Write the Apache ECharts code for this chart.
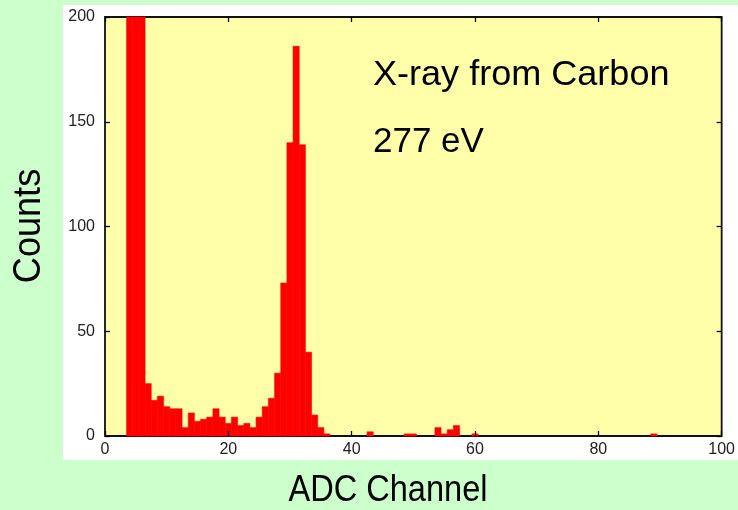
<!DOCTYPE html>
<html>
<head>
<meta charset="utf-8">
<script src="https://cdn.jsdelivr.net/npm/echarts@6/dist/echarts.min.js"></script>
<style>
  html, body { margin: 0; padding: 0; background: #ccffcc; }
  #chart { width: 738px; height: 510px; }
</style>
</head>
<body>
<div id="chart"></div>
<script>
// ADC channel numbers (bin centres) and counts per channel
const channels = [];
for (let c = 0; c < 100; c++) channels.push(c);
const counts = [
  0, 0, 0, 0, 560, 430, 240, 25, 17, 19,
  14, 13, 13, 4, 11, 7, 8, 9, 13, 9,
  6, 9, 5, 6, 4, 9, 14, 18, 30, 73,
  140, 186, 139, 40, 10, 4, 1, 0, 0, 0,
  0, 0, 0, 2, 0, 0, 0, 0, 0, 1,
  1, 0, 0, 0, 4, 1, 3, 5, 0, 0,
  1, 0, 0, 0, 0, 0, 0, 0, 0, 0,
  0, 0, 0, 0, 0, 0, 0, 0, 0, 0,
  0, 0, 0, 0, 0, 0, 0, 0, 0, 1,
  0, 0, 0, 0, 0, 0, 0, 0, 0, 0
];
const xTicks = [0, 20, 40, 60, 80, 100];
const yTicks = [0, 50, 100, 150, 200];
const noteLines = ['X-ray from Carbon', '277 eV'];
const xTitle = 'ADC Channel';
const yTitle = 'Counts';

const FONT = "'Liberation Sans', Arial, sans-serif";
const chart = echarts.init(document.getElementById('chart'));

const binData = channels.map((c, i) => [c, counts[i]]);

// ticks point into the plot area on all four sides
const axisCommon = {
  type: 'value',
  z: 6,
  axisLine: { show: false, onZero: false },
  splitLine: { show: false },
  axisTick: { show: true, inside: true, length: 5, lineStyle: { color: '#000', width: 1.3 } },
  axisLabel: { show: false }
};

chart.setOption({
  backgroundColor: '#ccffcc',
  animation: false,
  graphic: [
    { type: 'rect', z: -10, shape: { x: 63, y: 5, width: 675, height: 455 }, style: { fill: '#ffffff' } },
    { type: 'text', z: 20, x: 373, y: 58, scaleX: 1.03,
      style: { text: noteLines[0], font: '35px ' + FONT, fill: '#000' } },
    { type: 'text', z: 20, x: 373, y: 125,
      style: { text: noteLines[1], font: '35px ' + FONT, fill: '#000' } },
    { type: 'text', z: 20, x: 388, y: 491, scaleX: 0.88,
      style: { text: xTitle, font: '37px ' + FONT, fill: '#000', align: 'center', verticalAlign: 'middle' } },
    { type: 'text', z: 20, x: 30, y: 226, rotation: Math.PI / 2, scaleX: 0.95,
      style: { text: yTitle, font: '38px ' + FONT, fill: '#000', align: 'center', verticalAlign: 'middle' } }
  ],
  grid: {
    left: 105, right: 15, top: 17, bottom: 74, z: 1,
    show: true, backgroundColor: '#ffffaa', borderColor: '#111', borderWidth: 1.8
  },
  xAxis: [
    Object.assign({}, axisCommon, {
      min: xTicks[0], max: xTicks[xTicks.length - 1], interval: 20, position: 'bottom',
      axisLabel: { show: true, margin: 6, fontSize: 16, color: '#222', fontFamily: FONT }
    }),
    Object.assign({}, axisCommon, {
      min: xTicks[0], max: xTicks[xTicks.length - 1], interval: 20, position: 'top'
    })
  ],
  yAxis: [
    Object.assign({}, axisCommon, {
      min: yTicks[0], max: yTicks[yTicks.length - 1], interval: 50, position: 'left',
      axisLabel: { show: true, margin: 10, fontSize: 16, color: '#222', fontFamily: FONT }
    }),
    Object.assign({}, axisCommon, {
      min: yTicks[0], max: yTicks[yTicks.length - 1], interval: 50, position: 'right'
    })
  ],
  series: [{
    type: 'custom',
    xAxisIndex: 0,
    yAxisIndex: 0,
    data: binData,
    z: 4,
    renderItem: function (params, api) {
      const c = api.value(0), v = api.value(1);
      if (!v) return null;
      const top = api.coord([c - 0.5, v]);
      const bot = api.coord([c + 0.5, 0]);
      const rect = { x: top[0], y: top[1], width: bot[0] - top[0], height: bot[1] - top[1] };
      const cs = params.coordSys;
      const shape = echarts.graphic.clipRectByRect(rect, { x: cs.x, y: cs.y, width: cs.width, height: cs.height });
      if (!shape) return null;
      return { type: 'rect', shape: shape, style: { fill: '#ff0000', stroke: '#ff0000', lineWidth: 0.6 } };
    }
  }]
});
</script>
</body>
</html>
